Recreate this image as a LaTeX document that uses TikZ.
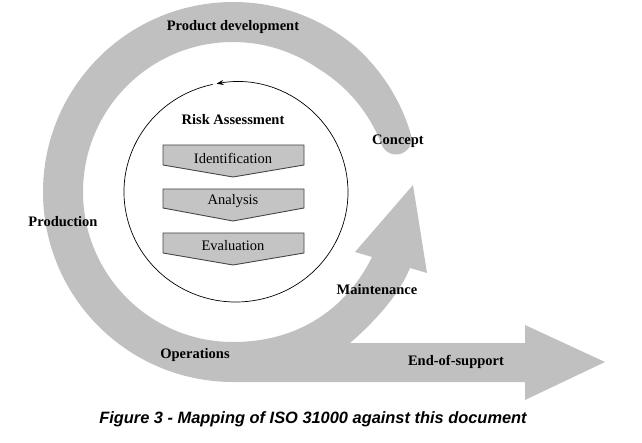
\documentclass[tikz,border=0pt]{standalone}
\usepackage{fontspec}
\setmainfont{Liberation Serif}
\newfontfamily\capfont{Liberation Sans}
\usetikzlibrary{arrows.meta}
\definecolor{bandgray}{RGB}{192,192,192}
\definecolor{chevgray}{RGB}{196,196,196}
\definecolor{chevedge}{RGB}{70,70,70}
\begin{document}
\begin{tikzpicture}[x=1pt,y=1pt,
  lbl/.style={font=\fontsize{14.5}{16}\selectfont\bfseries, inner sep=0pt},
  boxtxt/.style={font=\fontsize{14.5}{16}\selectfont, inner sep=0pt},
  chev/.style={fill=chevgray, draw=chevedge, line width=0.9pt},
  cyc/.style={line width=0.7pt, -{Stealth[length=7pt,width=5pt]}}]
\useasboundingbox (0,0) rectangle (642,442);
% spiral band with the two arrows
\fill[bandgray]
  plot[domain=18:50, samples=20] ({233+(187+3*(\x-18)/32)*cos(\x)}, {250+(187+3*(\x-18)/32)*sin(\x)})
  arc[start angle=50, end angle=270, radius=190]
  -- (525,60) -- (525,42) -- (605,80) -- (525,117) -- (525,99) -- (350,99)
  .. controls (372,118) and (398,145) .. (410,174)
  -- (427,169) -- (413,257) -- (355,190) -- (372,185)
  .. controls (350,140) and (305,100) .. (233,100)
  arc[start angle=270, end angle=55, radius=150]
  -- plot[domain=55:18, samples=20] ({233+(150+6*(55-\x)/37)*cos(\x)}, {250+(150+6*(55-\x)/37)*sin(\x)})
  arc[start angle=198, end angle=378, radius=15.5] -- cycle;
% risk assessment cycle
\draw[cyc] (212.7,357.6) arc[start angle=102, end angle=460, x radius=112, y radius=110];
% chevrons
\draw[chev] (163,297) -- (304,297) -- (304,277) -- (233,265) -- (163,277) -- cycle;
\draw[chev] (163,253) -- (304,253) -- (304,234) -- (233,221) -- (163,234) -- cycle;
\draw[chev] (163,209) -- (304,209) -- (304,189) -- (233,177) -- (163,189) -- cycle;
\node[boxtxt] (ident) at (233,284) {Identification};
\node[boxtxt] (anal) at (233,241) {Analysis};
\node[boxtxt] (eval) at (233,196) {Evaluation};
\node[lbl] (risk) at (233,322) {Risk Assessment};
% labels
\node[lbl] (pd) at (233,415) {Product development};
\node[lbl] (concept) at (398,301) {Concept};
\node[lbl] (prod) at (63,220) {Production};
\node[lbl] (maint) at (377,152) {Maintenance};
\node[lbl] (ops) at (195,87) {Operations};
\node[lbl] (eos) at (456,80) {End-of-support};
\node[font=\capfont\fontsize{16.4}{18}\selectfont\bfseries\itshape, inner sep=0pt] (cap) at (313,23) {Figure 3 - Mapping of ISO 31000 against this document};
\end{tikzpicture}
\end{document}
